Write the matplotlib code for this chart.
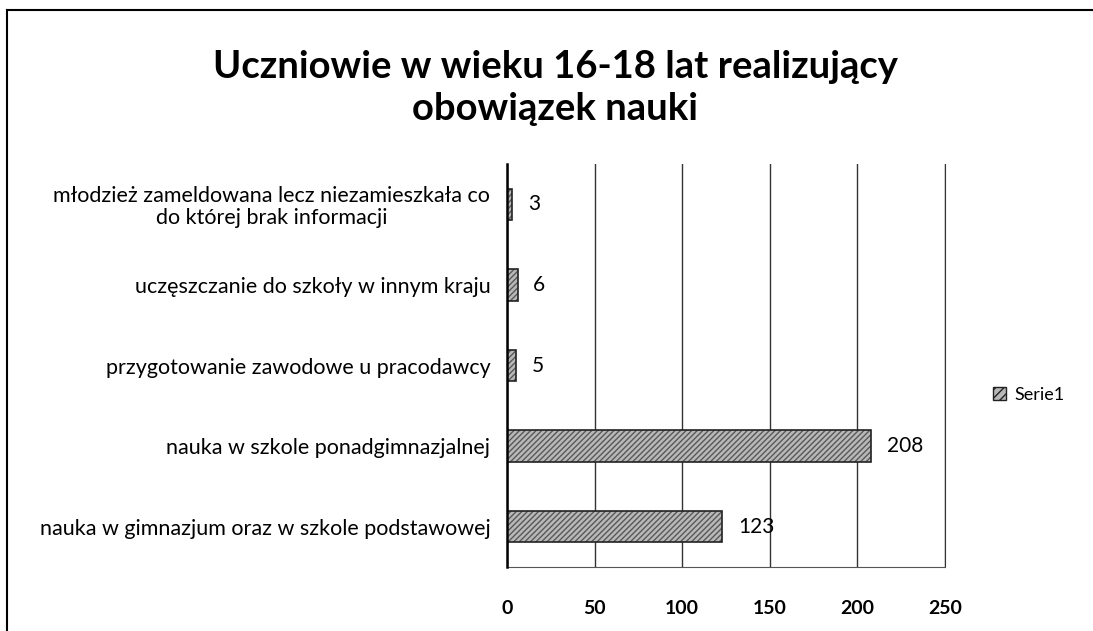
import matplotlib
matplotlib.use('Agg')
import matplotlib.pyplot as plt
from matplotlib.lines import Line2D
from matplotlib.patches import Patch

plt.rcParams['font.family'] = ['Lato', 'DejaVu Sans']

# data (bottom to top)
categories = ['nauka w gimnazjum oraz w szkole podstawowej',
              'nauka w szkole ponadgimnazjalnej',
              'przygotowanie zawodowe u pracodawcy',
              'uczęszczanie do szkoły w innym kraju',
              'młodzież zameldowana lecz niezamieszkała co\ndo której brak informacji']
values = [123, 208, 5, 6, 3]
xticks = [0, 50, 100, 150, 200, 250]
series_name = 'Serie1'
title = 'Uczniowie w wieku 16-18 lat realizujący\nobowiązek nauki'

W, H = 1093, 631
fig = plt.figure(figsize=(W / 100, H / 100), dpi=100)
# plot area in pixels: left 507, right 945, top 164, bottom 567
ax = fig.add_axes([507 / W, 1 - 567 / H, (945 - 507) / W, (567 - 164) / H])

y = range(len(categories))
bars = ax.barh(y, values, height=0.39, color='#b8b8b8', edgecolor='#222222',
               hatch='//////', linewidth=1.2, label=series_name, zorder=3)
for b in bars:
    b._hatch_color = (0.35, 0.35, 0.35, 1.0)

for yi, v in zip(y, values):
    ax.text(v + 9, yi, str(v), va='center', ha='left', fontsize=15, color='black')

ax.set_xlim(0, 250)
ax.set_ylim(-0.5, len(categories) - 0.5)
ax.set_xticks(xticks)
ax.set_xticklabels([str(t) for t in xticks], fontsize=14, fontweight='bold')
ax.set_yticks(list(y))
ax.set_yticklabels(categories, fontsize=15.5, multialignment='center', linespacing=1.1)
ax.tick_params(axis='both', length=0)
ax.tick_params(axis='x', pad=24)
ax.tick_params(axis='y', pad=12)

ax.grid(axis='x', color='#333333', linewidth=1.0, zorder=0)
ax.spines['top'].set_visible(False)
ax.spines['left'].set_color('black')
ax.spines['left'].set_linewidth(1.8)
ax.spines['left'].set_zorder(4)
ax.spines['bottom'].set_color('#555555')
ax.spines['bottom'].set_linestyle((0, (4, 1)))
ax.spines['right'].set_color('#333333')

fig.text(555 / W, 1 - 88 / H, title, ha='center', va='center', fontsize=27.5,
         fontweight='bold', linespacing=1.3)

handle = Patch(facecolor='#b8b8b8', edgecolor='#222222', hatch='////')
fig.legend([handle], [series_name], loc='center left',
           bbox_to_anchor=(984 / W, 1 - 395 / H), frameon=False, fontsize=13,
           handlelength=0.7, handleheight=0.7, handletextpad=0.5, borderpad=0)

# outer chart frame (left and top edges visible in the scan)
fig.add_artist(Line2D([7 / W, 7 / W], [0, 1 - 10 / H], color='black', linewidth=1.5))
fig.add_artist(Line2D([7 / W, 1], [1 - 10 / H, 1 - 10 / H], color='black', linewidth=1.5))

fig.savefig('out.png', dpi=100)
